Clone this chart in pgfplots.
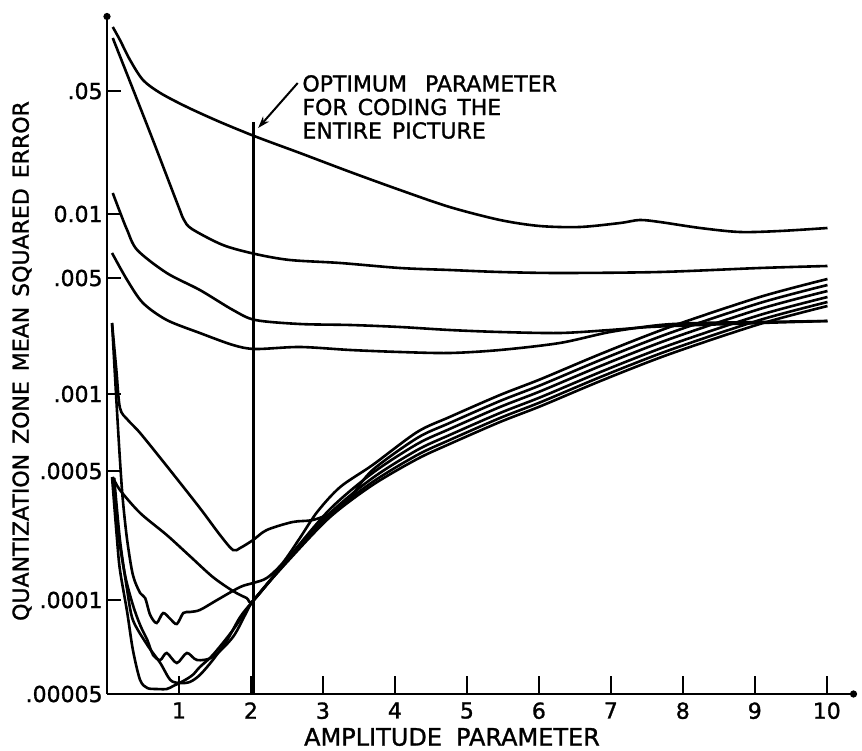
\documentclass[border=0pt]{standalone}
\usepackage{pgfplots}
\pgfplotsset{compat=1.18}
\usepackage{fontspec}
\setmainfont{DejaVu Sans}[FakeBold=1.2]
\usetikzlibrary{arrows.meta}
\begin{document}
\begin{tikzpicture}
\begin{axis}[
  at={(0,0)}, anchor=origin,
  scale only axis, width=375pt, height=340.5pt,
  xmin=0, xmax=10.42, ymin=0, ymax=681,
  axis lines=left,
  axis line style={line width=1.4pt, -{Circle[length=3.5pt]}},
  tick align=inside,
  major tick style={line width=1.2pt, black},
  xtick style={/pgfplots/major tick length=9pt},
  ytick style={/pgfplots/major tick length=7pt},
  xtick={1,2,3,4,5,6,7,8,9,10},
  xticklabels={1,2,3,4,5,6,7,8,9,10},
  ytick={0,94,223,300,416,480,603},
  yticklabels={.00005,.0001,.0005,.001,.005,0.01,.05},
  xticklabel style={font=\fontsize{11}{12}\selectfont, inner sep=1pt, yshift=-3pt},
  yticklabel style={font=\fontsize{11}{12}\selectfont, inner sep=1pt, xshift=-1pt},
  xlabel={AMPLITUDE\hspace{7pt}PARAMETER},
  ylabel={QUANTIZATION\hspace{5pt}ZONE\hspace{5pt}MEAN\hspace{5pt}SQUARED\hspace{5pt}ERROR},
  xlabel style={at={(axis description cs:0.46,0)}, anchor=center, yshift=-21.5pt, font=\fontsize{12}{14}\selectfont},
  ylabel style={at={(axis description cs:0,0.489)}, anchor=center, yshift=42.5pt, font=\fontsize{11}{13}\selectfont},
  clip=false,
  curve/.style={black, line width=1.3pt, smooth, tension=0.5},
]
% curve A
\addplot[curve] coordinates {(0.08,667) (0.18,654) (0.32,634) (0.50,614) (0.74,601) (1.11,587) (1.57,572) (2.08,557) (2.68,541) (3.38,522) (4.07,504) (4.76,487) (5.46,474) (6.01,468) (6.57,467) (7.13,471) (7.40,474) (7.68,472) (8.24,466) (8.79,462) (9.35,463) (10.01,466)};
% curve B
\addplot[curve] coordinates {(0.08,656) (0.60,561) (0.99,488) (1.07,474) (1.18,465) (1.61,449) (2.06,440) (2.54,434) (3.24,431) (4.07,426) (4.76,424) (5.46,422) (6.29,421) (7.68,422) (9.07,426) (10.01,428)};
% curve C
\addplot[curve] coordinates {(0.08,501) (0.18,482) (0.28,464) (0.42,444) (0.83,421) (1.29,404) (1.75,384) (2.06,374) (2.68,370) (3.38,369) (4.07,367) (4.76,364) (5.46,362) (6.29,361) (6.99,364) (7.54,367) (8.24,369) (9.07,371) (10.01,373)};
% curve D
\addplot[curve] coordinates {(0.07,441) (0.28,414) (0.50,391) (0.83,374) (1.29,361) (1.75,349) (2.06,345) (2.68,347) (3.38,344) (4.07,342) (4.76,341) (5.46,344) (6.29,351) (6.99,362) (7.68,369) (8.24,371) (9.07,372) (10.01,373)};
% curve E
\addplot[curve] coordinates {(0.07,371) (0.13,324) (0.18,286) (0.29,274) (0.46,261) (0.83,228) (1.29,186) (1.57,159) (1.75,144) (1.85,146) (2.03,154) (2.22,164) (2.58,172) (2.86,174) (3.14,182) (3.38,197) (3.69,224) (4.31,256) (4.76,271) (5.46,293) (6.03,309) (6.89,335) (7.82,361) (9.07,391) (10.01,409)};
% curve F
\addplot[curve] coordinates {(0.07,371) (0.13,294) (0.18,234) (0.22,194) (0.28,154) (0.36,119) (0.46,101) (0.53,96) (0.60,79) (0.69,71) (0.78,81) (0.88,75) (0.97,70) (1.06,81) (1.15,82) (1.29,84) (1.53,94) (1.85,107) (2.03,111) (2.22,116) (2.44,131) (2.68,156) (2.92,182) (3.24,207) (3.69,229) (4.31,262) (4.76,277) (5.46,299) (6.03,315) (6.89,341) (7.82,367) (9.07,397) (10.01,415)};
% curve G
\addplot[curve] coordinates {(0.08,217) (0.18,204) (0.46,181) (0.83,159) (1.15,138) (1.47,117) (1.75,103) (1.94,96) (2.04,94) (2.54,138) (3.10,185) (3.69,221) (4.31,250) (4.76,265) (5.46,287) (6.03,303) (6.89,329) (7.82,355) (9.07,385) (10.01,403)};
% curve H
\addplot[curve] coordinates {(0.08,216) (0.15,164) (0.25,119) (0.36,89) (0.46,69) (0.56,54) (0.64,39) (0.74,34) (0.83,41) (0.97,31) (1.11,41) (1.25,34) (1.47,37) (1.75,57) (1.94,82) (2.04,94) (2.54,137) (3.10,181) (3.69,216) (4.31,244) (4.76,259) (5.46,281) (6.03,297) (6.89,323) (7.82,349) (9.07,379) (10.01,397)};
% curve J
\addplot[curve] coordinates {(0.10,216) (0.18,154) (0.28,104) (0.36,74) (0.56,49) (0.74,31) (0.88,14) (1.01,11) (1.15,12) (1.29,19) (1.47,34) (1.67,54) (1.85,77) (2.04,94) (2.54,136) (3.10,179) (3.69,212) (4.31,239) (4.76,254) (5.46,276) (6.03,292) (6.89,318) (7.82,344) (9.07,374) (10.01,392)};
% curve I
\addplot[curve] coordinates {(0.07,217) (0.14,154) (0.18,124) (0.28,82) (0.36,44) (0.46,14) (0.56,6) (0.69,5) (0.83,5) (0.92,8) (1.06,13) (1.19,19) (1.29,27) (1.47,39) (1.75,64) (2.04,94) (2.54,135) (3.10,177) (3.69,209) (4.31,235) (4.76,250) (5.46,272) (6.03,288) (6.89,314) (7.82,340) (9.07,370) (10.01,388)};
% optimum parameter line
\addplot[black, line width=1.4pt] coordinates {(2.04,0) (2.04,572)};
\draw[line width=1pt, -{Stealth[length=6pt,width=4pt]}] (axis cs:2.65,611) -- (axis cs:2.10,566);
\node[anchor=west, align=left, font=\fontsize{11}{11.75}\selectfont, inner sep=0pt] at (axis cs:2.71,587)
  {OPTIMUM\hspace{9pt}PARAMETER\\FOR\hspace{5pt}CODING\hspace{5pt}THE\\ENTIRE\hspace{5pt}PICTURE};
\end{axis}
\pgfresetboundingbox
\useasboundingbox (-53.5pt,-28pt) rectangle (377.5pt,347pt);
\end{tikzpicture}
\end{document}
